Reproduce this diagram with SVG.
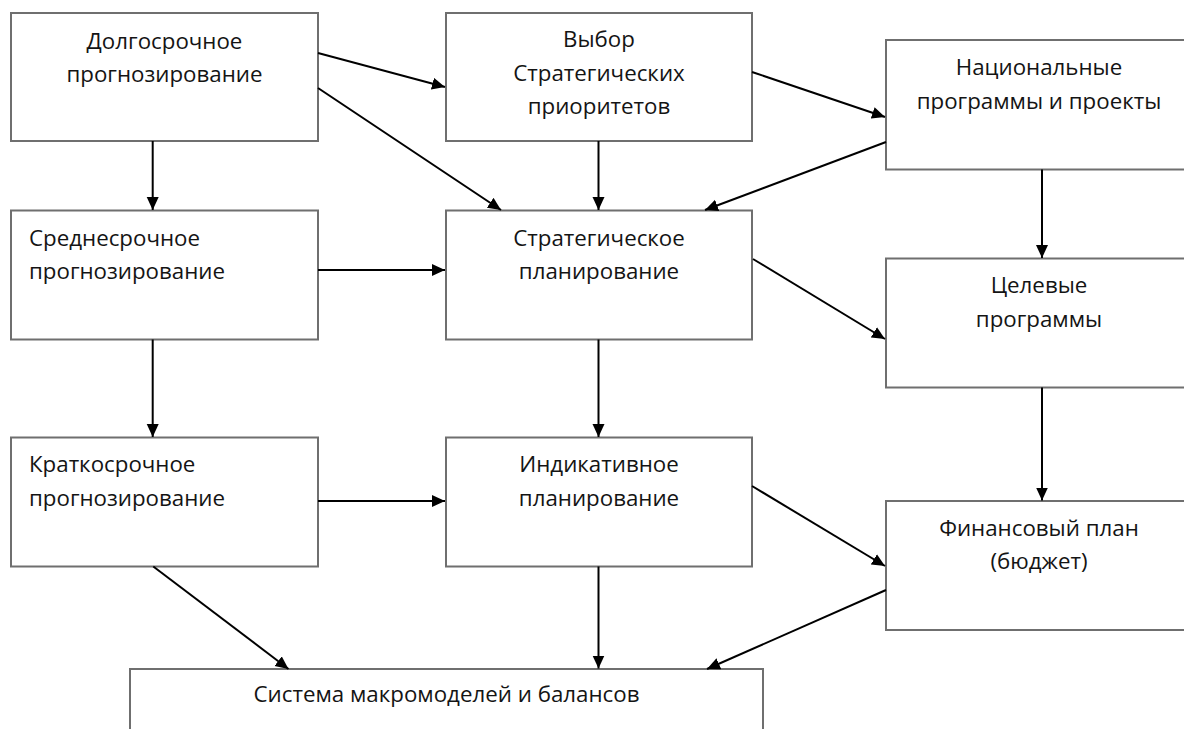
<svg xmlns="http://www.w3.org/2000/svg" width="1184" height="729" viewBox="0 0 1184 729">
<style>
.box{fill:#ffffff;stroke:#6f6f6f;stroke-width:2}
.t{font-family:"Open Sans","Noto Sans","DejaVu Sans",sans-serif;font-size:22.3px;fill:#141414}
.c{text-anchor:middle}
.conn line{stroke:#000;stroke-width:2;fill:none}
</style>
<defs>
<marker id="ah" markerUnits="userSpaceOnUse" markerWidth="14" markerHeight="13" refX="13" refY="6" orient="auto">
<path d="M0,0 L13,6 L0,12 z" fill="#000"/>
</marker>
</defs>
<rect width="1184" height="729" fill="#ffffff"/>
<g id="n1"><rect class="box" x="11" y="13" width="307" height="128"/>
<text class="t c" x="164.5" y="49">Долгосрочное</text><text class="t c" x="164.5" y="82">прогнозирование</text></g>
<g id="n2"><rect class="box" x="446" y="13" width="306" height="128"/>
<text class="t c" x="599" y="47">Выбор</text><text class="t c" x="599" y="81">Стратегических</text><text class="t c" x="599" y="114">приоритетов</text></g>
<g id="n3"><rect class="box" x="886" y="40" width="306" height="129.5"/>
<text class="t c" x="1039" y="75">Национальные</text><text class="t c" x="1039" y="109">программы и проекты</text></g>
<g id="n4"><rect class="box" x="11" y="210.5" width="307" height="129"/>
<text class="t" x="29" y="246">Среднесрочное</text><text class="t" x="29" y="279">прогнозирование</text></g>
<g id="n5"><rect class="box" x="446" y="210.5" width="306" height="129"/>
<text class="t c" x="599" y="246">Стратегическое</text><text class="t c" x="599" y="279">планирование</text></g>
<g id="n6"><rect class="box" x="886" y="258.5" width="306" height="129"/>
<text class="t c" x="1039" y="293">Целевые</text><text class="t c" x="1039" y="327">программы</text></g>
<g id="n7"><rect class="box" x="11" y="437.5" width="307" height="129"/>
<text class="t" x="29" y="472">Краткосрочное</text><text class="t" x="29" y="506">прогнозирование</text></g>
<g id="n8"><rect class="box" x="446" y="437.5" width="306" height="129"/>
<text class="t c" x="599" y="472">Индикативное</text><text class="t c" x="599" y="506">планирование</text></g>
<g id="n9"><rect class="box" x="886" y="501" width="306" height="129"/>
<text class="t c" x="1039" y="536">Финансовый план</text><text class="t c" x="1039" y="569">(бюджет)</text></g>
<g id="n10"><rect class="box" x="130" y="669" width="633" height="90"/>
<text class="t c" x="446.5" y="702">Система макромоделей и балансов</text></g>
<g id="connectors" class="conn">
<line x1="318" y1="53" x2="445" y2="87" marker-end="url(#ah)"/>
<line x1="318" y1="88" x2="501" y2="210" marker-end="url(#ah)"/>
<line x1="152.7" y1="141" x2="152.7" y2="210" marker-end="url(#ah)"/>
<line x1="752" y1="72" x2="885" y2="117" marker-end="url(#ah)"/>
<line x1="598.5" y1="141" x2="598.5" y2="210" marker-end="url(#ah)"/>
<line x1="886" y1="142" x2="705" y2="210" marker-end="url(#ah)"/>
<line x1="1042" y1="169.5" x2="1042" y2="258" marker-end="url(#ah)"/>
<line x1="318" y1="270" x2="445" y2="270" marker-end="url(#ah)"/>
<line x1="152.7" y1="339.5" x2="152.7" y2="437" marker-end="url(#ah)"/>
<line x1="753" y1="259" x2="885" y2="339" marker-end="url(#ah)"/>
<line x1="598.5" y1="339.5" x2="598.5" y2="437" marker-end="url(#ah)"/>
<line x1="1042" y1="387.5" x2="1042" y2="500.5" marker-end="url(#ah)"/>
<line x1="318" y1="501" x2="445" y2="501" marker-end="url(#ah)"/>
<line x1="153.3" y1="566.5" x2="288.5" y2="669" marker-end="url(#ah)"/>
<line x1="752" y1="486" x2="885" y2="566" marker-end="url(#ah)"/>
<line x1="598.5" y1="566.5" x2="598.5" y2="668.5" marker-end="url(#ah)"/>
<line x1="886" y1="590" x2="707" y2="669" marker-end="url(#ah)"/>
</g>
</svg>
